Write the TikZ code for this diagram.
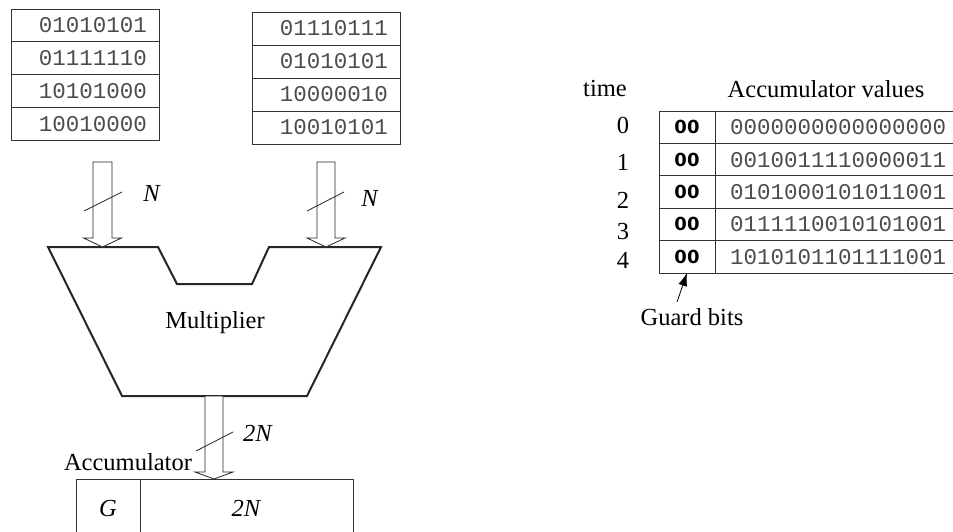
\documentclass[tikz,border=0pt]{standalone}
\usepackage{fontspec}
\setmainfont{Liberation Serif}
\newfontfamily\monof{Liberation Mono}
\newfontfamily\guardf{DejaVu Sans}
\usetikzlibrary{arrows.meta,calc}
\newcommand\blkarrow[5]{% #1 start coord, #2 tip coord, #3 half shaft, #4 half head, #5 head length
  \draw[bus] ($(#1)+(-#3,0)$) -- ($(#2)+(-#3,-#5)$) -- ($(#2)+(-#4,-#5)$) -- (#2)
    -- ($(#2)+(#4,-#5)$) -- ($(#2)+(#3,-#5)$) -- ($(#1)+(#3,0)$) -- cycle;}
\begin{document}
\begin{tikzpicture}[x=1pt,y=-1pt,
  thinline/.style={draw=black!85,line width=0.8pt},
  bus/.style={draw=black!85,line width=0.8pt,fill=white},
  reg/.style={draw=black!80,line width=0.9pt,text width=124pt,inner xsep=12pt,inner ysep=0pt,
    align=right,outer sep=0pt,font=\monof\fontsize{22.5}{24}\selectfont,text=black!70},
  guardcell/.style={draw=black!80,line width=0.9pt,minimum width=56pt,minimum height=32.4pt,
    inner sep=0pt,outer sep=0pt,font=\guardf\bfseries\fontsize{18}{20}\selectfont},
  valcell/.style={draw=black!80,line width=0.9pt,text width=225pt,inner xsep=15pt,inner ysep=0pt,
    minimum height=32.4pt,outer sep=0pt,align=left,font=\monof\fontsize{22.5}{24}\selectfont,text=black!70},
  lbl/.style={font=\fontsize{24.5}{28}\selectfont,inner sep=0pt},
  acccell/.style={draw=black!80,line width=0.9pt,minimum height=58pt,inner sep=0pt,outer sep=0pt,
    anchor=north west,font=\fontsize{24.5}{28}\selectfont}]
\useasboundingbox (0,0) rectangle (953,532);
\clip (0,0) rectangle (953,532);
\fill[white] (0,0) rectangle (953,532);

% input registers
\foreach \t [count=\i from 0] in {01010101,01111110,10101000,10010000}
  \node[reg,minimum height=32.75pt] (a\i) at (85,{25.375+32.75*\i}) {\t};
\foreach \t [count=\i from 0] in {01110111,01010101,10000010,10010101}
  \node[reg,minimum height=33pt] (b\i) at (326,{28.5+33*\i}) {\t};

% multiplier
\coordinate (m1) at (48,247);
\coordinate (m2) at (158,247);
\coordinate (m3) at (177,284);
\coordinate (m4) at (252,284);
\coordinate (m5) at (269,247);
\coordinate (m6) at (381,247);
\coordinate (m7) at (307,396);
\coordinate (m8) at (122,396);
\draw[draw=black!85,line width=2pt] (m1) -- (m2) -- (m3) -- (m4) -- (m5) -- (m6) -- (m7) -- (m8) -- cycle;
\node[lbl] (mult) at (215,323) {Multiplier};

% buses into multiplier
\coordinate (inA) at (102.5,162);
\coordinate (tipA) at (102.5,247);
\coordinate (inB) at (326,162);
\coordinate (tipB) at (326,247);
\blkarrow{inA}{tipA}{9.5}{19}{9}
\blkarrow{inB}{tipB}{9}{19}{9}
\draw[thinline] (84,211) -- (122,192);
\draw[thinline] (307,211) -- (344,192);
\node[lbl] (nA) at (152,193) {\textit{N}};
\node[lbl] (nB) at (370,198) {\textit{N}};

% bus to accumulator
\coordinate (outM) at (214,396);
\coordinate (tipC) at (214,479);
\blkarrow{outM}{tipC}{9}{19}{7}
\draw[thinline] (196,451) -- (233,432);
\node[lbl] (n2) at (258,433) {\textit{2N}};
\node[lbl] (acclbl) at (128,462) {Accumulator};

% accumulator register
\node[acccell,minimum width=64pt] (accG) at (76,479) {\textit{G}};
\node[acccell,minimum width=213pt] (accV) at (140,479) {\textit{2N}};

% table of accumulator values
\node[lbl] (timeh) at (605,89) {time};
\node[lbl] (valh) at (826,89) {Accumulator values};
\foreach \v [count=\i from 0] in {0000000000000000,0010011110000011,0101000101011001,0111110010101001,1010101101111001}{
  \node[guardcell] (g\i) at (687,{127.2+32.4*\i}) {00};
  \node[valcell] (v\i) at (842.5,{127.2+32.4*\i}) {\v};
}
\foreach \n/\y in {0/125,1/162,2/200,3/232,4/260}
  \node[lbl] (t\n) at (623,\y) {\n};

\node[lbl] (gb) at (692,317) {Guard bits};
\coordinate (gs) at (677,302);
\draw[draw=black,line width=0.8pt,-{Latex[length=13pt,width=9pt]}] (gs) -- (g4.south);
\end{tikzpicture}
\end{document}
